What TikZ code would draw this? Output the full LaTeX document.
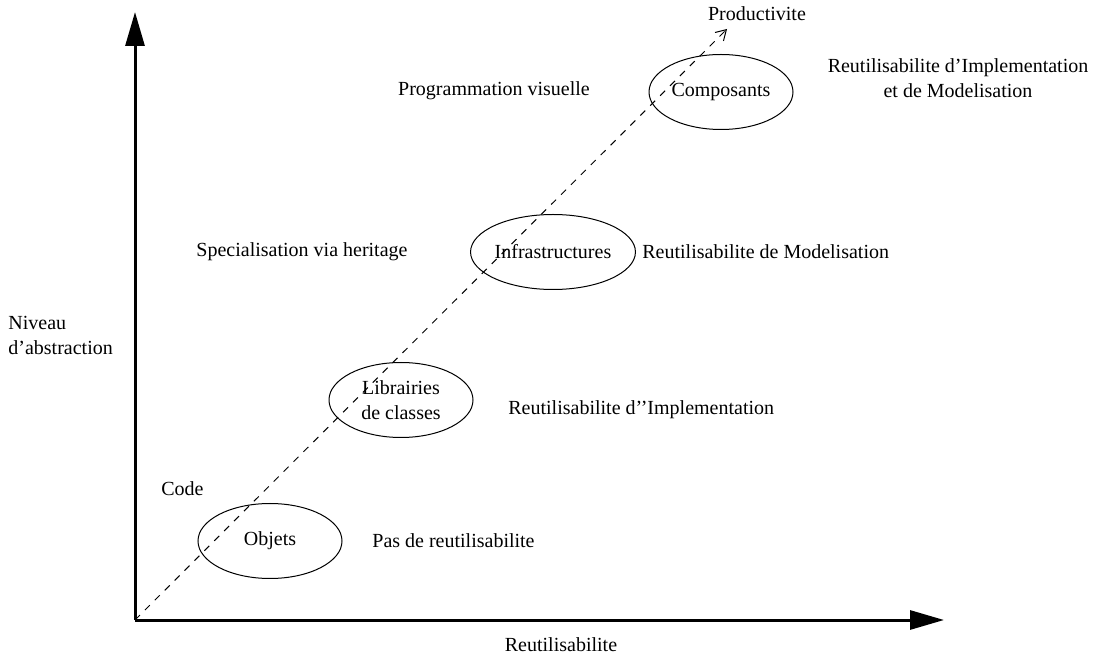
\documentclass[tikz,border=0pt]{standalone}
\usepackage{fontspec}
\setmainfont{Liberation Serif}
\usetikzlibrary{arrows.meta,shapes.geometric}
\begin{document}
\begin{tikzpicture}[x=0.5pt,y=-0.5pt,
  every node/.style={font=\fontsize{10}{12.5}\selectfont},
  axis/.style={line width=1.5pt,-{Triangle[length=17pt,width=9.5pt]}},
  level/.style={draw,ellipse,line width=0.5pt,minimum width=72pt,minimum height=37.5pt,inner sep=0pt,align=center},
  txt/.style={inner sep=0pt},
  trend/.style={line width=0.5pt,dash pattern=on 3.5pt off 3.5pt,-{Straight Barb[length=5pt,width=6pt]}}
]
\useasboundingbox (0,0) rectangle (1093,657);

% axes
\coordinate (O) at (135,620);
\coordinate (ytop) at (135,12);
\coordinate (xend) at (944,620);
\draw[axis] (O) -- (ytop);
\draw[axis] (O) -- (xend);

% productivity trend
\coordinate (ptip) at (727,29);
\draw[trend] (O) -- (ptip);

% levels of reuse
\node[level] (objets) at (270,541) {Objets};
\node[level] (libs) at (401,400) {Librairies\\de classes};
\node[level] (infra) at (553,252) {Infrastructures};
\node[level] (comp) at (721,92) {Composants};

% annotations
\node[txt,anchor=west] (pas) at (372,541) {Pas de reutilisabilite};
\node[txt,anchor=west] (rimpl) at (508,410) {Reutilisabilite d’’Implementation};
\node[txt,anchor=west] (rmod) at (642,252) {Reutilisabilite de Modelisation};
\node[txt,align=center] (rboth) at (958,78) {Reutilisabilite d’Implementation\\et de Modelisation};
\node[txt] (prog) at (494,91) {Programmation visuelle};
\node[txt] (spec) at (302,252) {Specialisation via heritage};
\node[txt,anchor=west] (code) at (161,489) {Code};

% axis titles
\node[txt,anchor=west,align=left] (ylab) at (8,335) {Niveau\\d’abstraction};
\node[txt] (xlab) at (561,645) {Reutilisabilite};
\node[txt] (plab) at (757,14) {Productivite};
\end{tikzpicture}
\end{document}
